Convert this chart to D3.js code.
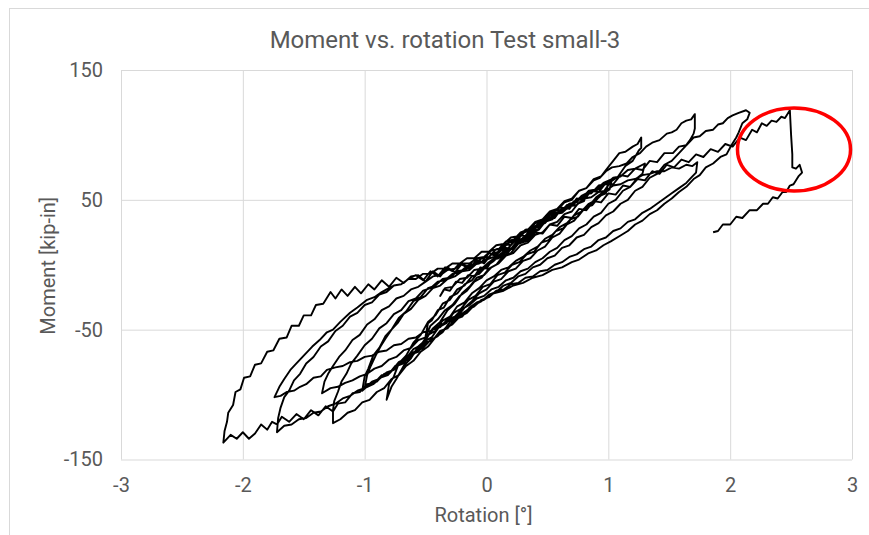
<!DOCTYPE html>
<html><head><meta charset="utf-8">
<script src="https://cdn.jsdelivr.net/npm/d3@7"></script>
<style>body{margin:0;background:#fff}svg{display:block}text{font-family:Roboto,"Liberation Sans",sans-serif;fill:#595959}</style>
</head><body>
<svg id="chart" width="869" height="535"></svg>
<script>
const chartTitle = "Moment vs. rotation Test small-3";
const xTitle = "Rotation [°]";
const yTitle = "Moment [kip-in]";
const xTicks = [-3,-2,-1,0,1,2,3];
const yTicks = [-150,-50,50,150];

const cycle01 = [[0,0],[0.05,4],[0.1,5],[0.15,11],[0.2,12],[0.25,18],[0.3,19],[0.35,25],[0.33,21],[0.28,19],[0.22,13],[0.17,12],[0.1,5],[0.05,4],[0,-3],[-0.05,-2],[-0.1,-9],[-0.15,-8],[-0.2,-14],[-0.25,-13],[-0.3,-20],[-0.35,-19],[-0.38,-24],[-0.34,-18],[-0.28,-17],[-0.22,-11],[-0.16,-10],[-0.1,-4],[-0.04,-3],[0.02,2]];
const cycle02 = [[0.08,6],[0.14,10],[0.2,12],[0.26,19],[0.32,21],[0.38,28],[0.44,30],[0.5,37],[0.55,40],[0.53,35],[0.48,33],[0.43,27],[0.38,25],[0.32,18],[0.26,16],[0.2,9],[0.14,7],[0.08,0],[0.02,-3],[-0.04,-10],[-0.1,-13],[-0.16,-20],[-0.22,-24],[-0.28,-31],[-0.34,-35],[-0.4,-42],[-0.46,-47],[-0.5,-55],[-0.48,-45],[-0.45,-43],[-0.4,-35],[-0.35,-33],[-0.3,-25],[-0.24,-22],[-0.18,-15],[-0.12,-12],[-0.06,-5],[0,-1]];
const cycle03 = [[0.06,4],[0.12,6],[0.18,12],[0.24,14],[0.3,21],[0.36,23],[0.42,30],[0.48,32],[0.54,38],[0.6,40],[0.66,46],[0.72,47],[0.78,53],[0.82,55],[0.8,49],[0.75,47],[0.7,41],[0.64,39],[0.58,33],[0.52,31],[0.46,25],[0.4,23],[0.34,17],[0.28,15],[0.22,9],[0.16,7],[0.1,1],[0.04,-2],[-0.02,-8],[-0.08,-10],[-0.14,-17],[-0.2,-22],[-0.26,-30],[-0.32,-35],[-0.38,-44],[-0.44,-49],[-0.5,-58],[-0.56,-63],[-0.62,-72],[-0.68,-78],[-0.74,-88],[-0.78,-94],[-0.82,-104],[-0.8,-92],[-0.76,-86],[-0.72,-76],[-0.66,-70],[-0.6,-60],[-0.54,-54],[-0.48,-44],[-0.42,-39],[-0.36,-30],[-0.3,-27],[-0.24,-19],[-0.18,-16],[-0.12,-9],[-0.06,-7],[0,-1]];
const cycle04 = [[0.06,3],[0.12,8],[0.18,10],[0.24,16],[0.3,18],[0.36,25],[0.42,27],[0.48,33],[0.54,35],[0.6,41],[0.66,43],[0.72,49],[0.78,51],[0.84,57],[0.9,58],[0.96,63],[1.03,66],[1.01,58],[0.96,55],[0.9,50],[0.84,47],[0.78,41],[0.72,38],[0.66,32],[0.6,29],[0.54,23],[0.48,20],[0.42,14],[0.36,11],[0.3,6],[0.24,3],[0.18,-2],[0.12,-4],[0.06,-9],[0,-12],[-0.06,-18],[-0.12,-22],[-0.18,-29],[-0.24,-32],[-0.3,-40],[-0.36,-43],[-0.42,-51],[-0.48,-54],[-0.54,-62],[-0.6,-65],[-0.66,-72],[-0.72,-75],[-0.78,-82],[-0.84,-84],[-0.9,-90],[-0.96,-92],[-1.02,-97],[-1.0,-86],[-0.97,-80],[-0.93,-70],[-0.88,-64],[-0.83,-55],[-0.78,-50],[-0.72,-41],[-0.66,-36],[-0.6,-28],[-0.54,-25],[-0.48,-18],[-0.42,-16],[-0.36,-11],[-0.3,-10],[-0.24,-5],[-0.18,-4],[-0.12,0]];
const cycle05 = [[-0.06,1],[0,4],[0.06,6],[0.12,11],[0.18,13],[0.24,19],[0.3,20],[0.36,27],[0.42,29],[0.48,35],[0.54,36],[0.6,42],[0.66,44],[0.72,49],[0.78,51],[0.84,56],[0.9,57],[0.96,61],[1.0,64],[0.98,55],[0.93,53],[0.87,46],[0.81,44],[0.75,37],[0.69,35],[0.63,28],[0.57,26],[0.51,19],[0.45,17],[0.39,10],[0.33,8],[0.27,2],[0.21,0],[0.15,-6],[0.09,-8],[0.03,-15],[-0.03,-17],[-0.09,-24],[-0.15,-27],[-0.21,-34],[-0.27,-37],[-0.33,-45],[-0.39,-48],[-0.45,-56],[-0.51,-59],[-0.57,-66],[-0.63,-69],[-0.69,-76],[-0.75,-78],[-0.81,-85],[-0.87,-87],[-0.93,-92],[-1.0,-95],[-0.98,-85],[-0.95,-78],[-0.91,-70],[-0.87,-63],[-0.83,-57],[-0.78,-50],[-0.73,-45],[-0.68,-38],[-0.62,-34],[-0.56,-27],[-0.5,-24],[-0.44,-18],[-0.38,-16],[-0.32,-11],[-0.26,-9],[-0.2,-5]];
const cycle06 = [[-0.14,-4],[-0.08,1],[-0.02,2],[0.04,8],[0.1,10],[0.16,16],[0.22,18],[0.28,24],[0.34,26],[0.4,32],[0.46,34],[0.52,40],[0.58,42],[0.64,48],[0.7,50],[0.76,57],[0.82,59],[0.88,66],[0.94,68],[0.98,73],[1.04,80],[1.09,86],[1.14,87],[1.2,91],[1.24,93],[1.27,98],[1.27,90],[1.25,88],[1.2,80],[1.14,76],[1.08,68],[1.02,64],[0.96,56],[0.9,52],[0.84,45],[0.78,41],[0.72,34],[0.66,31],[0.6,24],[0.54,21],[0.48,14],[0.42,11],[0.36,5],[0.3,3],[0.24,-3],[0.18,-5],[0.12,-11],[0.06,-13],[0,-19],[-0.06,-22],[-0.12,-28],[-0.18,-33],[-0.24,-40],[-0.3,-44],[-0.36,-52],[-0.42,-56],[-0.48,-63],[-0.54,-67],[-0.6,-74],[-0.66,-78],[-0.72,-85],[-0.78,-88],[-0.84,-95],[-0.9,-98],[-0.96,-104],[-1.02,-106],[-1.08,-112],[-1.14,-114],[-1.2,-119],[-1.26,-122],[-1.26,-112],[-1.25,-105],[-1.22,-98],[-1.19,-90],[-1.15,-84],[-1.11,-76],[-1.06,-70],[-1.0,-62],[-0.94,-57],[-0.88,-49],[-0.82,-45],[-0.76,-38],[-0.7,-35],[-0.64,-28],[-0.58,-26],[-0.52,-20],[-0.46,-18],[-0.4,-13],[-0.34,-12]];
const cycle07 = [[-0.28,-7],[-0.22,-6],[-0.16,-1],[-0.1,0],[-0.04,5],[0.02,6],[0.08,12],[0.14,13],[0.2,19],[0.26,20],[0.32,26],[0.38,27],[0.44,33],[0.5,34],[0.56,40],[0.62,41],[0.68,47],[0.74,48],[0.8,54],[0.86,55],[0.92,61],[0.98,62],[1.04,67],[1.1,68],[1.16,73],[1.22,74],[1.3,78],[1.28,70],[1.24,67],[1.18,60],[1.12,57],[1.06,50],[1.0,47],[0.94,40],[0.88,37],[0.82,31],[0.76,28],[0.7,22],[0.64,19],[0.58,13],[0.52,10],[0.46,5],[0.4,2],[0.34,-3],[0.28,-5],[0.22,-10],[0.16,-12],[0.1,-17],[0.04,-19],[-0.02,-24],[-0.08,-26],[-0.14,-31],[-0.2,-34],[-0.26,-40],[-0.32,-42],[-0.38,-48],[-0.44,-50],[-0.5,-56],[-0.56,-58],[-0.62,-64],[-0.68,-66],[-0.74,-71],[-0.8,-73],[-0.86,-78],[-0.92,-80],[-0.98,-84],[-1.04,-86],[-1.1,-89],[-1.16,-91],[-1.22,-94],[-1.28,-95],[-1.35,-99],[-1.33,-90],[-1.3,-84],[-1.26,-78],[-1.21,-71],[-1.16,-66],[-1.1,-58],[-1.04,-54],[-0.98,-46],[-0.92,-42],[-0.86,-35],[-0.8,-32],[-0.74,-26],[-0.68,-24],[-0.62,-19],[-0.56,-17],[-0.5,-13]];
const cycle08 = [[-0.44,-9],[-0.38,-8],[-0.32,-4],[-0.26,-3],[-0.2,1],[-0.14,1],[-0.08,5],[-0.02,6],[0.04,11],[0.1,12],[0.16,18],[0.22,19],[0.28,25],[0.34,27],[0.4,33],[0.46,35],[0.52,41],[0.58,43],[0.64,49],[0.7,51],[0.76,57],[0.82,59],[0.88,65],[0.93,67],[0.98,72],[1.03,75],[1.09,76],[1.15,78],[1.2,83],[1.26,86],[1.31,91],[1.36,94],[1.42,96],[1.48,101],[1.52,102],[1.56,104],[1.6,109],[1.64,111],[1.68,112],[1.71,116],[1.71,105],[1.7,101],[1.67,96],[1.63,91],[1.58,86],[1.52,80],[1.46,77],[1.4,70],[1.34,67],[1.28,60],[1.22,57],[1.16,50],[1.1,47],[1.04,41],[0.98,38],[0.92,32],[0.86,29],[0.8,23],[0.74,21],[0.68,15],[0.62,13],[0.56,7],[0.5,5],[0.44,0],[0.38,-2],[0.32,-7],[0.26,-9],[0.2,-14],[0.14,-16],[0.08,-21],[0.02,-23],[-0.04,-28],[-0.1,-31],[-0.16,-37],[-0.22,-40],[-0.28,-46],[-0.34,-49],[-0.4,-55],[-0.46,-58],[-0.52,-64],[-0.58,-67],[-0.64,-73],[-0.7,-75],[-0.76,-81],[-0.82,-83],[-0.88,-88],[-0.94,-90],[-1.0,-95],[-1.06,-97],[-1.12,-101],[-1.18,-103],[-1.24,-107],[-1.3,-109],[-1.36,-113],[-1.42,-114],[-1.48,-118],[-1.54,-119],[-1.6,-123],[-1.66,-124],[-1.72,-129],[-1.71,-118],[-1.69,-110],[-1.66,-102],[-1.62,-97],[-1.58,-89],[-1.53,-84],[-1.48,-76],[-1.42,-71],[-1.36,-63],[-1.3,-59],[-1.24,-51],[-1.18,-47],[-1.12,-40],[-1.06,-37],[-1.0,-31],[-0.94,-29],[-0.88,-23],[-0.82,-21],[-0.76,-16],[-0.7,-15]];
const cycle09 = [[-0.64,-11],[-0.58,-11],[-0.52,-7],[-0.46,-7],[-0.4,-3],[-0.34,-3],[-0.28,1],[-0.22,1],[-0.16,5],[-0.1,5],[-0.04,10],[0.02,10],[0.08,15],[0.14,16],[0.2,21],[0.26,22],[0.32,27],[0.38,28],[0.44,33],[0.5,34],[0.56,39],[0.62,40],[0.68,45],[0.74,46],[0.8,51],[0.86,52],[0.92,56],[0.98,57],[1.04,61],[1.1,62],[1.16,65],[1.22,66],[1.28,69],[1.34,70],[1.4,72],[1.46,72],[1.52,75],[1.58,74],[1.64,77],[1.69,76],[1.73,79],[1.72,71],[1.69,68],[1.64,63],[1.58,59],[1.52,55],[1.46,51],[1.4,47],[1.34,43],[1.28,40],[1.22,35],[1.16,33],[1.1,28],[1.04,26],[0.98,21],[0.92,19],[0.86,14],[0.8,12],[0.74,8],[0.68,6],[0.62,2],[0.56,0],[0.5,-4],[0.44,-5],[0.38,-9],[0.32,-10],[0.26,-14],[0.2,-15],[0.14,-19],[0.08,-20],[0.02,-25],[-0.04,-27],[-0.1,-32],[-0.16,-35],[-0.22,-39],[-0.28,-41],[-0.34,-45],[-0.4,-47],[-0.46,-51],[-0.52,-52],[-0.58,-56],[-0.64,-57],[-0.7,-61],[-0.76,-62],[-0.82,-66],[-0.88,-67],[-0.94,-70],[-1.0,-71],[-1.06,-74],[-1.12,-75],[-1.18,-78],[-1.24,-79],[-1.31,-81],[-1.36,-86],[-1.42,-87],[-1.48,-92],[-1.53,-94],[-1.58,-97],[-1.64,-98],[-1.69,-101],[-1.74,-102],[-1.7,-94],[-1.66,-88],[-1.61,-81],[-1.56,-76],[-1.5,-70],[-1.43,-63],[-1.37,-58],[-1.31,-52],[-1.26,-50],[-1.2,-44],[-1.12,-37],[-1.06,-33],[-0.98,-27],[-0.92,-25],[-0.86,-21],[-0.82,-19],[-0.76,-16],[-0.7,-15],[-0.64,-11]];
const cycle10 = [[-0.58,-8],[-0.52,-12],[-0.46,-5],[-0.4,-9],[-0.34,-2],[-0.28,-5],[-0.22,1],[-0.16,-2],[-0.1,4],[-0.04,2],[0.02,9],[0.08,8],[0.14,16],[0.2,15],[0.26,23],[0.32,22],[0.38,30],[0.44,29],[0.5,37],[0.56,36],[0.62,44],[0.68,43],[0.74,51],[0.8,50],[0.86,57],[0.92,56],[0.98,63],[1.04,62],[1.1,69],[1.16,68],[1.22,74],[1.28,73],[1.34,80],[1.4,79],[1.46,86],[1.53,86],[1.58,91],[1.64,92],[1.7,98],[1.75,99],[1.8,103],[1.86,104],[1.9,108],[1.94,109],[1.98,113],[2.02,115],[2.07,117],[2.13,119],[2.16,117],[2.14,112],[2.1,109],[2.07,102],[2.05,98],[2.01,92],[1.97,85],[1.92,83],[1.86,78],[1.8,75],[1.75,69],[1.7,66],[1.64,60],[1.58,56],[1.52,51],[1.46,47],[1.4,42],[1.34,39],[1.28,34],[1.22,31],[1.16,26],[1.09,22],[1.02,18],[0.96,15],[0.9,11],[0.84,9],[0.76,4],[0.7,2],[0.62,-2],[0.54,-4],[0.46,-8],[0.38,-10],[0.3,-14],[0.22,-16],[0.14,-20],[0.06,-22],[-0.02,-27],[-0.08,-29],[-0.14,-33],[-0.2,-40],[-0.26,-42],[-0.32,-49],[-0.38,-51],[-0.44,-58],[-0.5,-60],[-0.56,-67],[-0.62,-69],[-0.68,-76],[-0.74,-78],[-0.8,-84],[-0.86,-85],[-0.92,-91],[-0.98,-92],[-1.04,-98],[-1.1,-99],[-1.16,-106],[-1.22,-107],[-1.26,-113],[-1.32,-109],[-1.38,-116],[-1.44,-112],[-1.5,-119],[-1.56,-115],[-1.62,-121],[-1.68,-117],[-1.72,-123],[-1.76,-121],[-1.8,-127],[-1.85,-123],[-1.9,-130],[-1.95,-134],[-2.0,-129],[-2.05,-134],[-2.1,-131],[-2.16,-137],[-2.15,-128],[-2.13,-121],[-2.12,-114],[-2.08,-108],[-2.06,-98],[-2.02,-96],[-1.99,-87],[-1.94,-86],[-1.9,-77],[-1.85,-76],[-1.8,-67],[-1.75,-66],[-1.7,-57],[-1.64,-56],[-1.6,-47],[-1.54,-47],[-1.5,-39],[-1.44,-39],[-1.4,-31],[-1.34,-30],[-1.28,-21],[-1.24,-26],[-1.19,-19],[-1.14,-24],[-1.08,-17],[-1.03,-22],[-0.97,-15],[-0.92,-19],[-0.86,-12],[-0.8,-17],[-0.74,-10],[-0.68,-14],[-0.62,-9]];
const cycle11 = [[-0.56,-8],[-0.5,-13],[-0.44,-5],[-0.38,-9],[-0.32,-2],[-0.26,-6],[-0.2,1],[-0.14,-3],[-0.08,4],[-0.02,1],[0.04,8],[0.1,6],[0.16,13],[0.22,12],[0.28,19],[0.34,18],[0.4,25],[0.46,24],[0.52,31],[0.58,30],[0.64,37],[0.7,36],[0.76,43],[0.82,42],[0.88,49],[0.94,48],[1.0,55],[1.06,54],[1.12,61],[1.18,60],[1.24,66],[1.3,65],[1.36,72],[1.42,70],[1.48,77],[1.54,75],[1.6,81],[1.66,79],[1.72,85],[1.78,83],[1.84,89],[1.9,87],[1.96,93],[2.02,91],[2.08,98],[2.13,96],[2.18,104],[2.22,102],[2.26,109],[2.3,107],[2.34,111],[2.38,110],[2.42,114],[2.45,113],[2.49,119],[2.5,100],[2.51,85],[2.51,75],[2.54,74],[2.57,77],[2.59,71],[2.56,68],[2.52,62],[2.49,61],[2.46,56],[2.43,56],[2.39,51],[2.35,52],[2.31,47],[2.27,47],[2.22,42],[2.16,42],[2.1,36],[2.05,37],[2.0,31],[1.94,31],[1.9,26],[1.86,25]];

// red annotation ellipse: centre (x, y) and radii in data units
const highlightCenter = [2.524, 88.8];
const highlightRadii = [0.464, 32];

const cycles = [cycle01,cycle02,cycle03,cycle04,cycle05,cycle06,cycle07,cycle08,cycle09,cycle10,cycle11];

const svg = d3.select("#chart");
const plotL = 121, plotR = 852, plotT = 70, plotB = 459.5;
const x = d3.scaleLinear().domain([-3,3]).range([plotL, plotR]);
const y = d3.scaleLinear().domain([-150,150]).range([plotB, plotT]);

// outer frame
svg.append("rect").attr("x",9.5).attr("y",8.5).attr("width",900).attr("height",600)
  .attr("fill","#fff").attr("stroke","#d9d9d9").attr("stroke-width",1);

// axes with gridlines
const fmt = d => String(d);
const gx = svg.append("g").attr("transform",`translate(0,${plotB})`)
  .call(d3.axisBottom(x).tickValues(xTicks).tickSize(-(plotB-plotT)).tickPadding(18).tickFormat(fmt));
const gy = svg.append("g").attr("transform",`translate(${plotL},0)`)
  .call(d3.axisLeft(y).tickValues(yTicks).tickSize(-(plotR-plotL)).tickPadding(18).tickFormat(fmt));
[gx,gy].forEach(g=>{
  g.select(".domain").remove();
  g.selectAll(".tick line").attr("stroke","#d9d9d9").attr("stroke-width",1);
  g.selectAll(".tick text").attr("fill","#595959").style("font-size","20px").style("font-family","Roboto, 'Liberation Sans', sans-serif");
});

// data line
const line = d3.line().x(d=>x(d[0])).y(d=>y(d[1]));
const allPts = cycles.flat();
svg.append("path").datum(allPts).attr("d",line)
  .attr("fill","none").attr("stroke","#000").attr("stroke-width",1.9).attr("stroke-linejoin","round");

// annotation ellipse
svg.append("ellipse")
  .attr("cx",x(highlightCenter[0])).attr("cy",y(highlightCenter[1]))
  .attr("rx",x(highlightCenter[0]+highlightRadii[0])-x(highlightCenter[0]))
  .attr("ry",y(highlightCenter[1]-highlightRadii[1])-y(highlightCenter[1]))
  .attr("fill","none").attr("stroke","#ff0000").attr("stroke-width",3.5);

// titles
svg.append("text").attr("x",445).attr("y",48).attr("text-anchor","middle").style("font-size","24px").text(chartTitle);
svg.append("text").attr("x",(plotL+plotR)/2-3).attr("y",522).attr("text-anchor","middle").style("font-size","20px").text(xTitle);
svg.append("text").attr("transform",`translate(55,${(plotT+plotB)/2+1}) rotate(-90)`).attr("text-anchor","middle").style("font-size","20px").text(yTitle);
</script>
</body></html>
